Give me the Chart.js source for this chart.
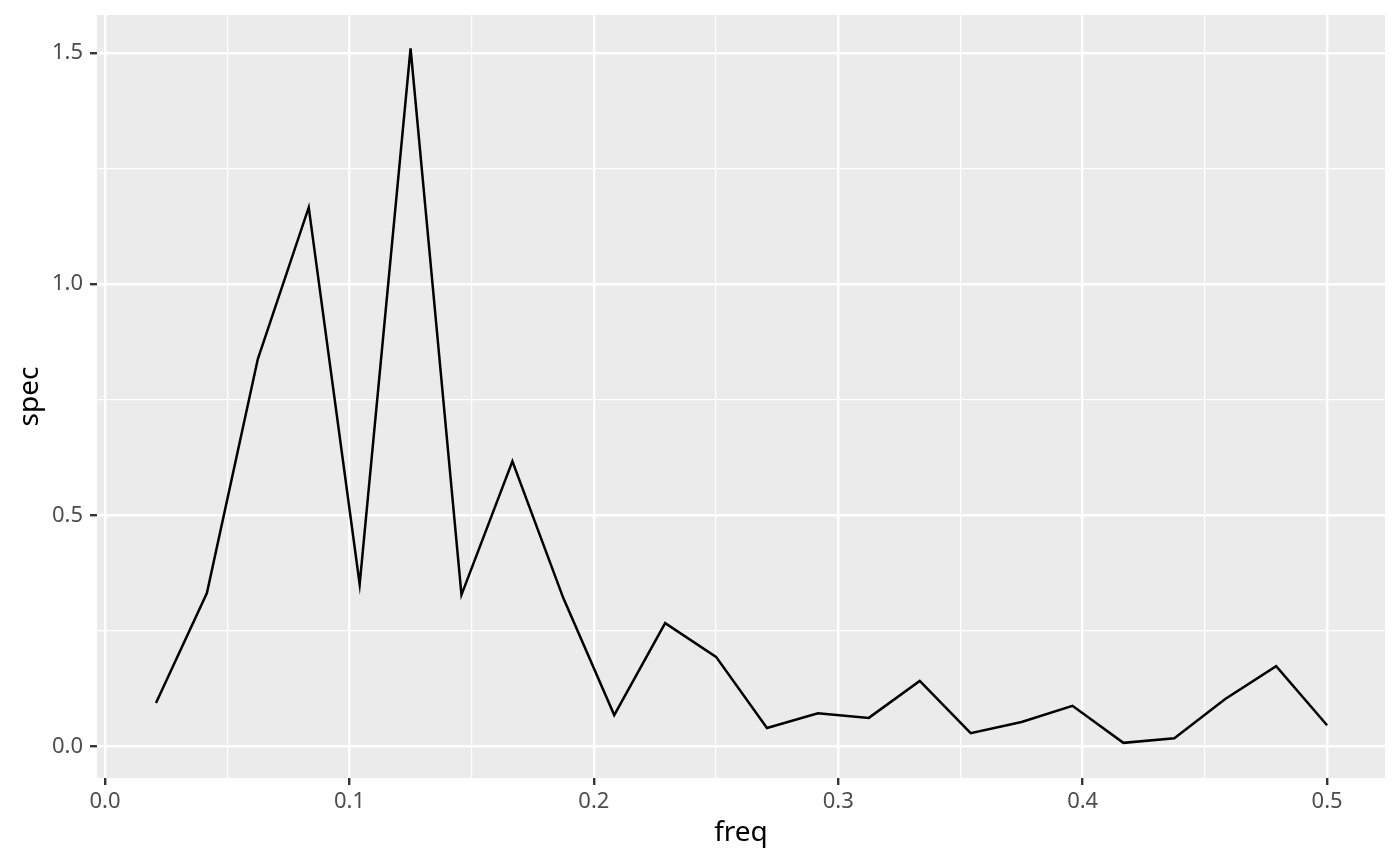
<!DOCTYPE html>
<html>
<head>
<meta charset="utf-8">
<script src="https://cdn.jsdelivr.net/npm/chart.js@4/dist/chart.umd.min.js"></script>
<style>
  html, body { margin: 0; padding: 0; background: #fff; }
  #wrap { width: 1400px; height: 866px; }
</style>
</head>
<body>
<div id="wrap"><canvas id="specChart" width="1400" height="866"></canvas></div>
<script>
// spectrum values
const freq = [0.02083, 0.04167, 0.0625, 0.08333, 0.10417, 0.125, 0.14583, 0.16667,
  0.1875, 0.20833, 0.22917, 0.25, 0.27083, 0.29167, 0.3125, 0.33333,
  0.35417, 0.375, 0.39583, 0.41667, 0.4375, 0.45833, 0.47917, 0.5];
const spec = [0.094, 0.332, 0.838, 1.166, 0.351, 1.510, 0.328, 0.617,
  0.321, 0.068, 0.267, 0.194, 0.040, 0.072, 0.062, 0.142,
  0.029, 0.053, 0.088, 0.008, 0.018, 0.103, 0.174, 0.046];

// gridline positions (major ones get a label)
const xGrid = [0, 0.05, 0.1, 0.15, 0.2, 0.25, 0.3, 0.35, 0.4, 0.45, 0.5];
const xMajor = [0, 0.1, 0.2, 0.3, 0.4, 0.5];
const yGrid = [0, 0.25, 0.5, 0.75, 1.0, 1.25, 1.5];
const yMajor = [0, 0.5, 1.0, 1.5];

const isMajor = (list, v) => list.some(m => Math.abs(m - v) < 1e-9);

const panelBg = {
  id: "panelBg",
  beforeDraw(chart) {
    const { ctx, chartArea: a } = chart;
    ctx.save();
    ctx.fillStyle = "#EBEBEB";
    ctx.fillRect(a.left, a.top, a.right - a.left, a.bottom - a.top);
    ctx.restore();
  },
};

function axisOpts(grid, major, min, max, title, pad) {
  return {
    type: "linear",
    min: min,
    max: max,
    afterBuildTicks(scale) {
      scale.ticks = grid.map(v => ({ value: v }));
    },
    border: { display: false },
    grid: {
      color: "#FFFFFF",
      lineWidth: c => (isMajor(major, c.tick.value) ? 2.4 : 1.2),
      drawTicks: true,
      tickLength: 7,
      tickWidth: 2.4,
      tickColor: c => (isMajor(major, c.tick.value) ? "#333333" : "rgba(0,0,0,0)"),
    },
    ticks: {
      autoSkip: false,
      maxRotation: 0,
      padding: 4,
      color: "#4D4D4D",
      font: { family: "Noto Sans", size: 22 },
      callback: v => (isMajor(major, v) ? v.toFixed(1) : ""),
    },
    title: {
      display: true,
      text: title,
      color: "#000000",
      font: { family: "Noto Sans", size: 28 },
      padding: pad,
    },
  };
}

const xAxis = axisOpts(xGrid, xMajor, -0.0033, 0.5237, "freq", { top: 0, bottom: 16 });
xAxis.afterFit = s => { s.height = 88; s.paddingLeft = 0; s.paddingRight = 0; };
const yAxis = axisOpts(yGrid, yMajor, -0.068, 1.582, "spec", { top: 13, bottom: 0 });
yAxis.afterFit = s => { s.width = 97; s.paddingTop = 0; s.paddingBottom = 0; };
yAxis.ticks.padding = 7;

new Chart(document.getElementById("specChart").getContext("2d"), {
  type: "line",
  data: {
    datasets: [{
      data: freq.map((f, i) => ({ x: f, y: spec[i] })),
      borderColor: "#000000",
      borderWidth: 2.5,
      pointRadius: 0,
      tension: 0,
      fill: false,
    }],
  },
  options: {
    responsive: false,
    animation: false,
    layout: { padding: { top: 15, right: 15, left: 0, bottom: 0 } },
    plugins: { legend: { display: false }, tooltip: { enabled: false } },
    scales: { x: xAxis, y: yAxis },
  },
  plugins: [panelBg],
});
</script>
</body>
</html>
